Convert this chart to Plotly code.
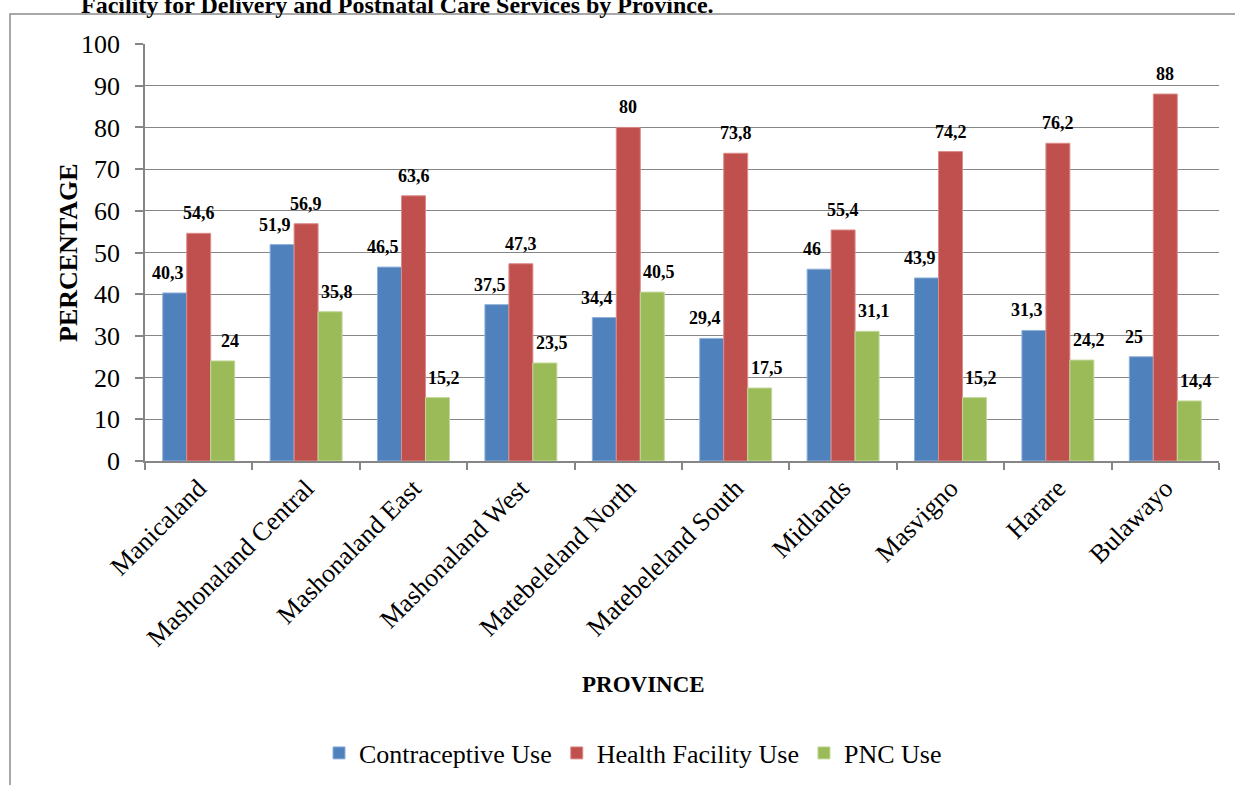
import plotly.graph_objects as go

# Provinces and the three indicators (percent)
provinces = [
    "Manicaland", "Mashonaland Central", "Mashonaland East", "Mashonaland West",
    "Matebeleland North", "Matebeleland South", "Midlands", "Masvigno",
    "Harare", "Bulawayo",
]
contraceptive_use = [40.3, 51.9, 46.5, 37.5, 34.4, 29.4, 46.0, 43.9, 31.3, 25.0]
health_facility_use = [54.6, 56.9, 63.6, 47.3, 80.0, 73.8, 55.4, 74.2, 76.2, 88.0]
pnc_use = [24.0, 35.8, 15.2, 23.5, 40.5, 17.5, 31.1, 15.2, 24.2, 14.4]

series_names = ["Contraceptive Use", "Health Facility Use", "PNC Use"]
y_ticks = list(range(0, 101, 10))

W, H = 1235, 785
L, R, T, B = 145, 16, 44, 324
PW, PH = W - L - R, H - T - B


def px_x(p):
    return (p - L) / PW


def px_y(p):
    return (H - B - p) / PH


SERIF = "Liberation Serif, Times New Roman, serif"
colors = ["#4F81BD", "#C0504D", "#9BBB59"]
edges = ["#8FB0DA", "#DC8C8A", "#C2D89A"]

fig = go.Figure()
all_series = [contraceptive_use, health_facility_use, pnc_use]
for name, vals, c, e in zip(series_names, all_series, colors, edges):
    fig.add_trace(go.Bar(
        x=provinces, y=vals, name=name,
        marker=dict(color=c, line=dict(color=e, width=1)),
    ))

# value labels above each bar (decimal comma)
bar_px = PW / len(provinces) * 0.67 / 3
label_nudge = [-7, 0, 7]
for i, vals in enumerate(all_series):
    for prov, v in zip(provinces, vals):
        txt = (f"{v:.1f}".rstrip("0").rstrip(".")).replace(".", ",")
        fig.add_annotation(
            x=prov, y=v, xref="x", yref="y", text=f"<b>{txt}</b>",
            showarrow=False, yanchor="middle", xanchor="center",
            xshift=(i - 1) * bar_px + label_nudge[i], yshift=20,
            font=dict(family=SERIF, size=18, color="black"),
        )

# cut-off heading line at the top of the page
fig.add_annotation(
    x=px_x(79), y=px_y(20), xref="paper", yref="paper",
    text="<b>Facility for Delivery and Postnatal Care Services by Province.</b>",
    showarrow=False, xanchor="left", yanchor="bottom",
    font=dict(family=SERIF, size=24, color="black"),
)

# axis titles
fig.add_annotation(
    x=px_x(68), y=px_y(253), xref="paper", yref="paper", text="<b>PERCENTAGE</b>",
    textangle=-90, showarrow=False, xanchor="center", yanchor="middle",
    font=dict(family=SERIF, size=26, color="black"),
)
fig.add_annotation(
    x=px_x(643), y=px_y(684), xref="paper", yref="paper", text="<b>PROVINCE</b>",
    showarrow=False, xanchor="center", yanchor="middle",
    font=dict(family=SERIF, size=23, color="black"),
)

# chart-area frame
fig.add_shape(
    type="rect", xref="paper", yref="paper",
    x0=px_x(10), x1=px_x(1300), y0=px_y(900), y1=px_y(14),
    line=dict(color="#8C8C8C", width=1.5), fillcolor="rgba(0,0,0,0)", layer="below",
)

fig.update_layout(
    width=W, height=H,
    margin=dict(l=L, r=R, t=T, b=B, pad=0, autoexpand=False),
    paper_bgcolor="white", plot_bgcolor="white",
    barmode="group", bargap=0.33, bargroupgap=0,
    font=dict(family=SERIF, size=26, color="black"),
    showlegend=True,
    legend=dict(
        orientation="h", xanchor="center", yanchor="middle",
        xref="container", yref="container",
        x=633 / W, y=1 - 753 / H,
        font=dict(family=SERIF, size=26, color="black"),
        itemwidth=30, tracegroupgap=0,
    ),
    xaxis=dict(
        type="category", tickangle=-45, tickson="boundaries",
        ticks="outside", ticklen=7, tickcolor="#868686", tickwidth=1.5,
        showline=True, linecolor="#868686", linewidth=1.5,
        showgrid=False, tickfont=dict(family=SERIF, size=26, color="black"),
    ),
    yaxis=dict(
        range=[0, 100], tickvals=y_ticks, ticks="outside", ticklen=8,
        tickcolor="#868686", tickwidth=1.5,
        showline=True, linecolor="#868686", linewidth=1.5,
        showgrid=True, gridcolor="#868686", gridwidth=1.3,
        zeroline=False, ticklabelstandoff=10,
        tickfont=dict(family=SERIF, size=26, color="black"),
    ),
)

fig.write_html("out.html")
